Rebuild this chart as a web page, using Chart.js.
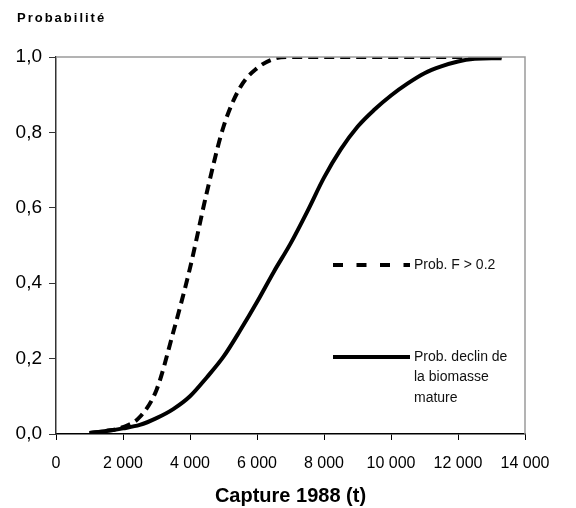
<!DOCTYPE html>
<html>
<head>
<meta charset="utf-8">
<script src="https://cdn.jsdelivr.net/npm/chart.js@4"></script>
<style>
  html, body { margin: 0; padding: 0; background: #fff; }
  #wrap { width: 576px; height: 508px; }
</style>
</head>
<body>
<div id="wrap"><canvas id="chart" width="576" height="508"></canvas></div>
<script>
// Capture 1988 (t) vs probability
const captures = [1000, 1500, 2000, 2500, 3000, 3500, 4000, 4500, 5000, 5500, 6000, 6500, 7000,
    7500, 8000, 8500, 9000, 9500, 10000, 10500, 11000, 11500, 12000, 12500, 13000, 13300];
const probF = [0.002, 0.008, 0.018, 0.045, 0.117, 0.27, 0.44, 0.64, 0.815, 0.92, 0.97, 0.995, 1.0,
    1.0, 1.0, 1.0, 1.0, 1.0, 1.0, 1.0, 1.0, 1.0, 1.0, 1.0, 1.0, 1.0];
const probDeclin = [0.003, 0.008, 0.015, 0.024, 0.042, 0.066, 0.10, 0.15, 0.205, 0.275, 0.35, 0.43, 0.505,
    0.59, 0.68, 0.755, 0.815, 0.86, 0.898, 0.93, 0.957, 0.975, 0.988, 0.995, 0.997, 0.997];
const seriesLabels = [['Prob. F > 0.2'], ['Prob. declin de', 'la biomasse', 'mature']];
const xTickLabels = ['0', '2 000', '4 000', '6 000', '8 000', '10 000', '12 000', '14 000'];
const yTickLabels = ['0,0', '0,2', '0,4', '0,6', '0,8', '1,0'];

const FONT = "'Liberation Sans', Arial, sans-serif";

function toPoints(ys) {
    return captures.map((x, i) => ({ x: x, y: ys[i] }));
}

// frame (top/right grey), y title and the in-plot legend
const extras = {
    id: 'extras',
    afterDraw(chart) {
        const ctx = chart.ctx;
        const a = chart.chartArea;
        ctx.save();
        ctx.strokeStyle = '#9a9a9a';
        ctx.lineWidth = 1.5;
        ctx.beginPath();
        ctx.moveTo(a.left, a.top);
        ctx.lineTo(a.right, a.top);
        ctx.lineTo(a.right, a.bottom);
        ctx.stroke();

        ctx.fillStyle = '#000';
        ctx.font = 'bold 13px ' + FONT;
        ctx.textBaseline = 'middle';
        ctx.textAlign = 'left';
        ctx.letterSpacing = '2px';
        ctx.fillText('Probabilité', 17, 18);
        ctx.letterSpacing = '0px';

        // legend
        const rows = [265, 357];
        const dashes = [[10, 13.5], []];
        chart.data.datasets.forEach((ds, i) => {
            const y = rows[i];
            ctx.strokeStyle = '#000';
            ctx.lineWidth = 4;
            ctx.setLineDash(dashes[i]);
            ctx.beginPath();
            ctx.moveTo(333, y);
            ctx.lineTo(410, y);
            ctx.stroke();
            ctx.setLineDash([]);
            ctx.font = '14px ' + FONT;
            ctx.fillStyle = '#111';
            seriesLabels[i].forEach((t, j) => ctx.fillText(t, 414, y + j * 20.5));
        });
        ctx.restore();
    }
};

new Chart(document.getElementById('chart').getContext('2d'), {
    type: 'line',
    data: {
        datasets: [{
            label: seriesLabels[0].join(' '),
            data: toPoints(probF),
            borderColor: '#000',
            borderWidth: 4,
            borderDash: [10, 6],
            pointRadius: 0,
            cubicInterpolationMode: 'monotone',
            fill: false
        }, {
            label: seriesLabels[1].join(' '),
            data: toPoints(probDeclin),
            borderColor: '#000',
            borderWidth: 4,
            pointRadius: 0,
            cubicInterpolationMode: 'monotone',
            fill: false
        }]
    },
    options: {
        responsive: false,
        animation: false,
        layout: { padding: { top: 57, right: 51, bottom: 0, left: 0 } },
        plugins: {
            legend: { display: false },
            tooltip: { enabled: false }
        },
        scales: {
            x: {
                type: 'linear',
                min: 0,
                max: 14000,
                afterFit: s => { s.height = 74; },
                afterBuildTicks: s => { s.ticks = xTickLabels.map((_, i) => ({ value: i * 2000 })); },
                ticks: {
                    color: '#000',
                    font: { family: FONT, size: 16 },
                    padding: 14,
                    maxRotation: 0,
                    autoSkip: false,
                    callback: (v, i) => xTickLabels[i]
                },
                grid: { drawOnChartArea: false, drawTicks: true, tickLength: 6, color: '#000', lineWidth: 1 },
                border: { display: true, color: '#000', width: 1.5 },
                title: {
                    display: true,
                    text: 'Capture 1988 (t)',
                    color: '#000',
                    font: { family: FONT, size: 20, weight: 'bold' },
                    padding: { top: 0, bottom: 0 }
                }
            },
            y: {
                type: 'linear',
                min: 0,
                max: 1,
                afterFit: s => { s.width = 56; },
                afterBuildTicks: s => { s.ticks = yTickLabels.map((_, i) => ({ value: i * 0.2 })); },
                ticks: {
                    color: '#000',
                    font: { family: FONT, size: 19 },
                    padding: 7,
                    autoSkip: false,
                    callback: (v, i) => yTickLabels[i]
                },
                grid: { drawOnChartArea: false, drawTicks: true, tickLength: 7, color: '#333', lineWidth: 1 },
                border: { display: true, color: '#333', width: 1.5 }
            }
        }
    },
    plugins: [extras]
});
</script>
</body>
</html>
